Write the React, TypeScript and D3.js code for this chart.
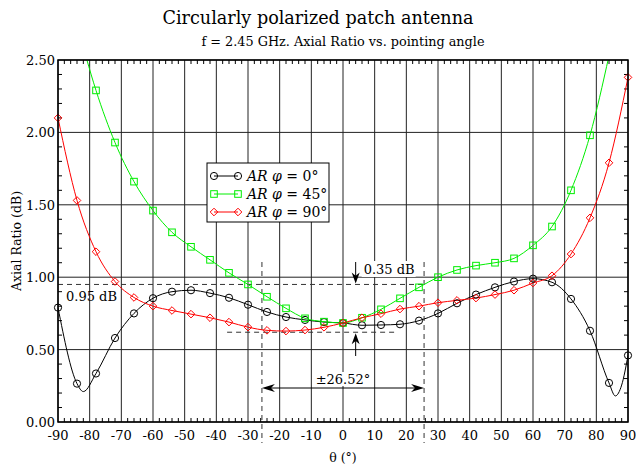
import React from 'react';
import * as d3 from 'd3';

// pointing angle (deg) and axial ratio (dB) for each cut
const theta0 = [-90, -84, -82, -78, -72, -66, -60, -54, -48, -42, -36, -30, -24, -18, -12, -6, 0, 6, 12, 18, 24, 30, 36, 42, 48, 54, 60, 66, 72, 78, 84, 86, 88, 90];
const ar0 = [0.79, 0.265, 0.21, 0.335, 0.58, 0.75, 0.855, 0.9, 0.91, 0.89, 0.858, 0.81, 0.76, 0.725, 0.705, 0.69, 0.684, 0.668, 0.67, 0.675, 0.7, 0.75, 0.82, 0.88, 0.93, 0.97, 0.99, 0.965, 0.85, 0.63, 0.27, 0.18, 0.255, 0.46];

const theta45 = [-84, -78, -72, -66, -60, -54, -48, -42, -36, -30, -24, -18, -12, -6, 0, 6, 12, 18, 24, 30, 36, 42, 48, 54, 60, 66, 72, 78, 84];
const ar45 = [2.75, 2.29, 1.93, 1.66, 1.46, 1.31, 1.21, 1.12, 1.03, 0.95, 0.865, 0.785, 0.716, 0.693, 0.684, 0.72, 0.778, 0.854, 0.93, 1.0, 1.05, 1.08, 1.1, 1.13, 1.22, 1.35, 1.6, 1.98, 2.53];

const theta90 = [-90, -84, -78, -72, -66, -60, -54, -48, -42, -36, -30, -24, -18, -12, -6, 0, 6, 12, 18, 24, 30, 36, 42, 48, 54, 60, 66, 72, 78, 84, 90];
const ar90 = [2.1, 1.53, 1.176, 0.97, 0.86, 0.8, 0.77, 0.745, 0.72, 0.69, 0.655, 0.633, 0.628, 0.635, 0.654, 0.684, 0.72, 0.748, 0.78, 0.8, 0.824, 0.84, 0.856, 0.88, 0.91, 0.96, 1.01, 1.16, 1.41, 1.79, 2.38];

const xTicks = [-90, -80, -70, -60, -50, -40, -30, -20, -10, 0, 10, 20, 30, 40, 50, 60, 70, 80, 90];
const yTicks = [0, 0.5, 1.0, 1.5, 2.0, 2.5];

// annotation values
const arUpper = 0.95;
const arLower = 0.62;
const beamHalf = 25.6;
const beamLabel = '±26.52°';
const deltaLabel = '0.35 dB';
const upperLabel = '0.95 dB';

const series = [
  { key: 'phi0', theta: theta0, ar: ar0, color: '#000000', marker: 'circle', name: '0°' },
  { key: 'phi45', theta: theta45, ar: ar45, color: '#00ee00', marker: 'square', name: '45°' },
  { key: 'phi90', theta: theta90, ar: ar90, color: '#ff0000', marker: 'diamond', name: '90°' },
];

const W = 636, H = 471;
const margin = { top: 60, right: 8, bottom: 49, left: 58 };
const FONT = '"DejaVu Serif", serif';

function Marker({ type, x, y, color }: { type: string; x: number; y: number; color: string }) {
  if (type === 'circle') return <circle cx={x} cy={y} r={3.6} fill="none" stroke={color} strokeWidth={1} />;
  if (type === 'square') return <rect x={x - 3.3} y={y - 3.3} width={6.6} height={6.6} fill="none" stroke={color} strokeWidth={1} />;
  return <path d={`M${x},${y - 3.8}L${x + 3.8},${y}L${x},${y + 3.8}L${x - 3.8},${y}Z`} fill="none" stroke={color} strokeWidth={1} />;
}

function arrowHead(x: number, y: number, dir: 'up' | 'down' | 'left' | 'right', len = 11, half = 4) {
  // swept arrow head with tip at (x,y)
  const pts: Record<string, string> = {
    down: `M${x},${y}L${x - half},${y - len}L${x},${y - len * 0.7}L${x + half},${y - len}Z`,
    up: `M${x},${y}L${x - half},${y + len}L${x},${y + len * 0.7}L${x + half},${y + len}Z`,
    left: `M${x},${y}L${x + len},${y - half}L${x + len * 0.7},${y}L${x + len},${y + half}Z`,
    right: `M${x},${y}L${x - len},${y - half}L${x - len * 0.7},${y}L${x - len},${y + half}Z`,
  };
  return <path d={pts[dir]} fill="#000" />;
}

export default function App() {
  const x = d3.scaleLinear().domain([-90, 90]).range([margin.left, W - margin.right - 0]);
  const y = d3.scaleLinear().domain([0, 2.5]).range([H - margin.bottom, margin.top]);
  const [x0, x1] = x.range();
  const [yb, yt] = y.range();

  const line = d3.line<[number, number]>()
    .x(d => x(d[0]))
    .y(d => y(d[1]))
    .curve(d3.curveMonotoneX);

  const minorX = d3.range(-90, 90.01, 2).filter(v => v % 10 !== 0);
  const minorY = d3.range(0, 2.501, 0.1).filter(v => Math.abs(v / 0.5 - Math.round(v / 0.5)) > 1e-6);
  const tk = 4;

  const legX = 207, legY = 163;

  return (
    <svg width={W} height={H} style={{ position: 'absolute', left: 0, top: 0, background: '#fff' }} fontFamily={FONT}>
      <defs>
        <clipPath id="plot">
          <rect x={x0} y={yt} width={x1 - x0} height={yb - yt} />
        </clipPath>
      </defs>

      <text x={318} y={24} textAnchor="middle" fontSize={17.6} fill="#000">Circularly polarized patch antenna</text>
      <text x={343} y={46} textAnchor="middle" fontSize={12.8} fill="#000">f = 2.45 GHz. Axial Ratio vs. pointing angle</text>

      {/* grid */}
      {xTicks.map(t => (
        <line key={'gx' + t} x1={x(t)} x2={x(t)} y1={yt} y2={yb} stroke="#222" strokeWidth={1} />
      ))}
      {yTicks.map(t => (
        <line key={'gy' + t} x1={x0} x2={x1} y1={y(t)} y2={y(t)} stroke="#222" strokeWidth={1} />
      ))}

      {/* minor ticks inside the frame */}
      {minorX.map(t => (
        <g key={'mx' + t} stroke="#000" strokeWidth={1}>
          <line x1={x(t)} x2={x(t)} y1={yb} y2={yb - tk} />
          <line x1={x(t)} x2={x(t)} y1={yt} y2={yt + tk} />
        </g>
      ))}
      {minorY.map(t => (
        <g key={'my' + t} stroke="#000" strokeWidth={1}>
          <line x1={x0} x2={x0 + tk} y1={y(t)} y2={y(t)} />
          <line x1={x1} x2={x1 - tk} y1={y(t)} y2={y(t)} />
        </g>
      ))}

      {/* annotation lines */}
      <g stroke="#333" strokeWidth={1} strokeDasharray="5,4" fill="none">
        <line x1={x0} x2={x(beamHalf)} y1={y(arUpper)} y2={y(arUpper)} />
        <line x1={x(-36.6)} x2={x(17)} y1={y(arLower)} y2={y(arLower)} />
        <line x1={x(-beamHalf)} x2={x(-beamHalf)} y1={262} y2={443} />
        <line x1={x(beamHalf)} x2={x(beamHalf)} y1={262} y2={443} />
      </g>

      {/* curves */}
      <g clipPath="url(#plot)">
        {series.map(s => (
          <path key={s.key}
            d={line(s.theta.map((t, i) => [t, s.ar[i]] as [number, number])) || ''}
            fill="none" stroke={s.color} strokeWidth={1} />
        ))}
      </g>
      {series.map(s => (
        <g key={s.key + 'm'}>
          {s.theta.map((t, i) => ((t + 90) % 6 === 0 && s.ar[i] <= 2.5 ?
            <Marker key={t} type={s.marker} x={x(t)} y={y(s.ar[i])} color={s.color} /> : null))}
        </g>
      ))}

      {/* frame */}
      <rect x={x0} y={yt} width={x1 - x0} height={yb - yt} fill="none" stroke="#000" strokeWidth={1.5} />

      {/* tick labels */}
      {xTicks.map(t => (
        <text key={'lx' + t} x={x(t)} y={yb + 18} textAnchor="middle" fontSize={13} fill="#000">{t}</text>
      ))}
      {yTicks.map(t => (
        <text key={'ly' + t} x={x0 - 3} y={y(t) + 5} textAnchor="end" fontSize={13} fill="#000">{t.toFixed(2)}</text>
      ))}

      <text x={(x0 + x1) / 2} y={462} textAnchor="middle" fontSize={12.5} fill="#000">θ (°)</text>
      <text transform={`translate(21,${(yt + yb) / 2}) rotate(-90)`} textAnchor="middle" fontSize={12.5} fill="#000">Axial Ratio (dB)</text>

      {/* 0.35 dB arrows */}
      <line x1={x(4)} x2={x(4)} y1={262} y2={y(arUpper) - 3} stroke="#000" strokeWidth={1} />
      {arrowHead(x(4), y(arUpper) - 1, 'down')}
      <line x1={x(4)} x2={x(4)} y1={356} y2={y(arLower) + 3} stroke="#000" strokeWidth={1} />
      {arrowHead(x(4), y(arLower) + 1, 'up')}
      <rect x={x(4) + 6} y={261} width={54} height={16} fill="#fff" />
      <text x={x(4) + 8} y={274} fontSize={13} fill="#000">{deltaLabel}</text>

      {/* 0.95 dB label */}
      <text x={66} y={301} fontSize={13} fill="#000">{upperLabel}</text>

      {/* beamwidth arrow */}
      <line x1={x(-beamHalf) + 4} x2={x(beamHalf) - 4} y1={388} y2={388} stroke="#000" strokeWidth={1} />
      {arrowHead(x(-beamHalf), 388, 'left', 13, 4)}
      {arrowHead(x(beamHalf), 388, 'right', 13, 4)}
      <rect x={(x(-beamHalf) + x(beamHalf)) / 2 - 27} y={372} width={54} height={14} fill="#fff" />
      <text x={(x(-beamHalf) + x(beamHalf)) / 2} y={384} textAnchor="middle" fontSize={13} fill="#000">{beamLabel}</text>

      {/* legend */}
      <rect x={legX} y={legY} width={122} height={59} fill="#fff" stroke="#000" strokeWidth={1} />
      {series.map((s, i) => {
        const ly = legY + 13 + i * 18;
        return (
          <g key={'lg' + s.key}>
            <line x1={legX + 7} x2={legX + 31} y1={ly} y2={ly} stroke={s.color} strokeWidth={1} />
            <Marker type={s.marker} x={legX + 7} y={ly} color={s.color} />
            <Marker type={s.marker} x={legX + 31} y={ly} color={s.color} />
            <text x={legX + 40} y={ly + 5} fontSize={14} fill="#000">
              <tspan fontStyle="italic">AR φ</tspan> = {s.name}
            </text>
          </g>
        );
      })}
    </svg>
  );
}
